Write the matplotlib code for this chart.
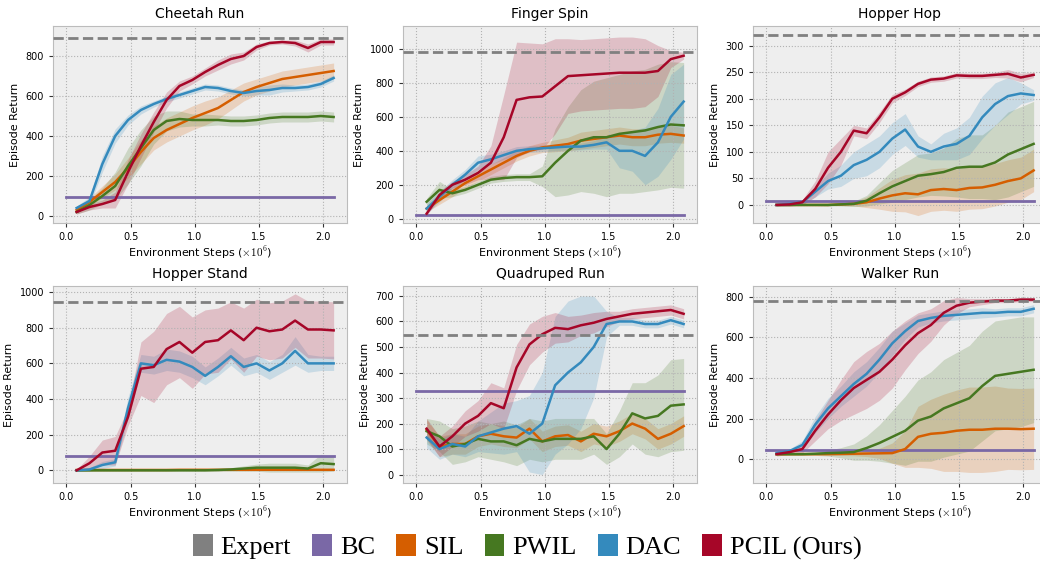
import matplotlib
matplotlib.use("Agg")
import matplotlib.pyplot as plt
from matplotlib.patches import Patch
import numpy as np

steps = [0.08, 0.18, 0.28, 0.38, 0.48, 0.58, 0.68, 0.78, 0.88, 0.98, 1.08,
         1.18, 1.28, 1.38, 1.48, 1.58, 1.68, 1.78, 1.88, 1.98, 2.08]

tasks = ["Cheetah Run", "Finger Spin", "Hopper Hop",
         "Hopper Stand", "Quadruped Run", "Walker Run"]
expert_ret = [890, 980, 320, 942, 547, 780]
bc_ret = [95, 22, 7.5, 80, 329, 46]
y_limits = [(-35, 950), (-25, 1135), (-34, 337), (-71, 1034), (-33, 739), (-117, 852)]

# mean curves and +/- spread, one list per task
sil_mean = [
    [30, 70, 120, 170, 240, 320, 390, 430, 460, 490, 515, 540, 580, 620, 645, 665, 685, 695, 705, 715, 725],
    [60, 110, 160, 210, 250, 290, 330, 370, 400, 420, 430, 440, 460, 470, 480, 490, 480, 480, 495, 500, 490],
    [0, 0, 0, 0, 0, 1, 2, 5, 12, 18, 22, 20, 28, 30, 28, 32, 33, 38, 45, 50, 65],
    [2, 2, 2, 2, 2, 2, 2, 2, 3, 3, 3, 3, 3, 3, 3, 3, 3, 3, 3, 3, 3],
    [175, 110, 120, 120, 150, 160, 150, 145, 180, 130, 150, 155, 130, 160, 150, 170, 200, 180, 140, 160, 190],
    [25, 25, 25, 25, 25, 26, 27, 28, 29, 30, 50, 110, 125, 130, 140, 145, 145, 150, 150, 148, 150],
]
sil_std = [
    [10, 20, 30, 40, 50, 60, 60, 60, 60, 60, 60, 55, 50, 45, 40, 40, 40, 40, 40, 40, 40],
    [20, 25, 30, 30, 30, 30, 30, 30, 30, 30, 35, 40, 50, 50, 50, 50, 50, 50, 50, 50, 45],
    [1, 1, 1, 1, 1, 2, 4, 10, 20, 30, 35, 40, 40, 40, 40, 40, 40, 40, 40, 40, 40],
    [3, 3, 3, 3, 3, 3, 3, 3, 3, 3, 3, 3, 3, 3, 3, 3, 3, 3, 3, 3, 3],
    [40, 40, 40, 40, 40, 40, 40, 40, 40, 40, 40, 40, 40, 40, 40, 40, 40, 40, 40, 40, 40],
    [5, 5, 5, 5, 5, 8, 10, 15, 25, 50, 90, 150, 170, 190, 200, 210, 210, 210, 200, 200, 200],
]
pwil_mean = [
    [20, 55, 100, 150, 250, 340, 430, 475, 485, 480, 480, 480, 475, 475, 480, 490, 495, 495, 495, 500, 495],
    [100, 170, 150, 170, 200, 230, 240, 245, 245, 250, 330, 400, 460, 480, 480, 500, 510, 520, 540, 555, 550],
    [0, 0, 0, 0, 0, 1, 2, 8, 22, 35, 45, 55, 58, 62, 70, 72, 72, 80, 95, 105, 115],
    [0, 0, 0, 0, 0, 0, 0, 0, 0, 0, 0, 2, 5, 10, 15, 15, 15, 15, 10, 40, 35],
    [170, 150, 110, 120, 140, 130, 130, 115, 140, 130, 140, 140, 140, 150, 100, 160, 240, 220, 230, 270, 275],
    [25, 25, 25, 27, 30, 32, 35, 55, 80, 110, 140, 190, 210, 250, 275, 300, 360, 410, 420, 430, 440],
]
pwil_std = [
    [10, 25, 40, 70, 90, 90, 70, 50, 40, 30, 30, 25, 25, 25, 25, 25, 25, 25, 25, 25, 25],
    [20, 50, 20, 20, 20, 20, 20, 20, 20, 60, 200, 260, 300, 330, 350, 350, 360, 360, 370, 370, 370],
    [1, 1, 1, 1, 2, 3, 5, 10, 20, 30, 35, 40, 40, 45, 55, 60, 60, 70, 80, 80, 80],
    [2, 2, 2, 2, 2, 2, 2, 2, 2, 2, 3, 8, 10, 15, 20, 25, 25, 25, 20, 50, 40],
    [50, 60, 70, 70, 70, 70, 80, 80, 80, 80, 80, 80, 80, 70, 60, 90, 120, 140, 160, 180, 180],
    [5, 5, 5, 8, 15, 25, 40, 60, 90, 130, 170, 200, 220, 240, 250, 260, 270, 270, 270, 270, 260],
]
dac_mean = [
    [40, 75, 260, 400, 480, 530, 560, 585, 605, 625, 645, 640, 625, 615, 625, 630, 640, 640, 645, 660, 690],
    [60, 130, 200, 260, 330, 350, 375, 400, 410, 415, 420, 425, 425, 435, 450, 400, 400, 370, 450, 600, 690],
    [0, 2, 5, 25, 45, 55, 75, 85, 100, 125, 142, 110, 100, 110, 115, 130, 165, 190, 205, 210, 207],
    [0, 5, 30, 45, 350, 600, 590, 620, 610, 580, 530, 580, 640, 580, 600, 560, 600, 670, 600, 600, 600],
    [145, 100, 120, 110, 150, 165, 180, 190, 160, 200, 350, 400, 440, 500, 590, 600, 600, 590, 590, 605, 590],
    [30, 40, 70, 170, 250, 310, 370, 420, 490, 570, 630, 680, 695, 705, 710, 715, 720, 720, 725, 725, 740],
]
dac_std = [
    [10, 20, 40, 35, 25, 20, 15, 15, 15, 15, 15, 15, 15, 15, 20, 25, 20, 15, 15, 15, 15],
    [30, 30, 30, 30, 40, 30, 25, 25, 20, 20, 20, 20, 20, 25, 40, 100, 120, 170, 200, 250, 220],
    [3, 4, 5, 10, 15, 20, 25, 30, 30, 30, 30, 20, 15, 25, 30, 35, 40, 40, 35, 20, 10],
    [5, 10, 20, 20, 60, 50, 50, 60, 60, 60, 50, 50, 50, 50, 50, 50, 50, 80, 50, 40, 40],
    [40, 40, 40, 40, 60, 80, 100, 100, 150, 200, 270, 280, 260, 200, 50, 15, 15, 15, 15, 15, 15],
    [10, 10, 20, 40, 50, 50, 60, 60, 60, 60, 40, 30, 25, 25, 25, 25, 25, 20, 20, 20, 20],
]
pcil_mean = [
    [20, 45, 60, 80, 220, 350, 470, 580, 650, 680, 720, 755, 785, 800, 845, 865, 870, 865, 840, 870, 870],
    [30, 140, 200, 230, 270, 330, 480, 700, 715, 720, 780, 840, 845, 850, 855, 860, 860, 860, 870, 940, 960],
    [0, 1, 5, 30, 70, 100, 140, 135, 165, 200, 212, 228, 236, 238, 244, 243, 243, 245, 247, 240, 245],
    [0, 40, 100, 110, 300, 570, 580, 680, 720, 660, 720, 730, 785, 730, 800, 780, 790, 840, 790, 790, 785],
    [180, 110, 150, 200, 230, 280, 260, 420, 510, 550, 575, 570, 585, 595, 610, 620, 630, 635, 640, 645, 630],
    [25, 35, 50, 140, 220, 290, 350, 390, 430, 490, 560, 620, 660, 720, 755, 770, 775, 780, 780, 785, 785],
]
pcil_std = [
    [10, 15, 20, 40, 60, 60, 50, 40, 25, 20, 20, 25, 25, 20, 15, 10, 10, 15, 20, 15, 15],
    [10, 20, 20, 30, 40, 100, 250, 340, 320, 310, 280, 220, 210, 210, 210, 210, 210, 200, 150, 50, 20],
    [2, 3, 5, 15, 30, 25, 10, 10, 10, 8, 6, 5, 5, 5, 5, 5, 5, 5, 8, 8, 5],
    [5, 40, 70, 80, 50, 150, 200, 200, 200, 200, 180, 180, 160, 180, 160, 160, 160, 150, 160, 160, 160],
    [40, 40, 40, 50, 60, 80, 80, 90, 80, 70, 60, 50, 40, 40, 30, 20, 20, 20, 20, 20, 20],
    [10, 10, 20, 50, 70, 100, 130, 140, 140, 140, 120, 100, 80, 60, 40, 20, 15, 10, 10, 10, 10],
]

colors = {
    "Expert": "#808080", "BC": "#7A68A6", "SIL": "#D55E00",
    "PWIL": "#467821", "DAC": "#348ABD", "PCIL (Ours)": "#A60628",
}

plt.style.use("bmh")
plt.rcParams["font.family"] = "DejaVu Sans"
plt.rcParams["xtick.direction"] = "out"
plt.rcParams["ytick.direction"] = "out"

W, H = 1040, 563
fig = plt.figure(figsize=(W / 100, H / 100), dpi=100)

lefts = [53, 403, 753]
tops = [26, 286]
aw, ah = 294, 197

x = np.array(steps)
runs = [
    ("SIL", sil_mean, sil_std),
    ("PWIL", pwil_mean, pwil_std),
    ("DAC", dac_mean, dac_std),
    ("PCIL (Ours)", pcil_mean, pcil_std),
]

for i, task in enumerate(tasks):
    r, c = divmod(i, 3)
    ax = fig.add_axes([lefts[c] / W, (H - tops[r] - ah) / H, aw / W, ah / H])
    ax.axhline(expert_ret[i], color=colors["Expert"], ls="--", lw=2, zorder=5)
    ax.plot([0.0, 2.08], [bc_ret[i]] * 2, color=colors["BC"], lw=2)
    for name, mean, std in runs:
        m = np.array(mean[i], dtype=float)
        s = np.array(std[i], dtype=float)
        ax.fill_between(x, m - s, m + s, color=colors[name], alpha=0.2, lw=0)
        ax.plot(x, m, color=colors[name], lw=1.8)
    ax.set_xlim(-0.104, 2.184)
    ax.set_ylim(*y_limits[i])
    ax.set_xticks([0.0, 0.5, 1.0, 1.5, 2.0])
    ax.set_title(task, fontsize=10, pad=6)
    ax.set_xlabel(r"Environment Steps ($\times10^6$)", fontsize=8, labelpad=2)
    ax.set_ylabel("Episode Return", fontsize=8)
    ax.tick_params(labelsize=7, length=3, colors="#333333", labelcolor="black")
    ax.grid(True, color="#b2b2b2", ls=":", lw=0.8)

handles = [Patch(facecolor=colors[k], edgecolor="none") for k in colors]
fig.legend(handles, list(colors.keys()), loc="center", bbox_to_anchor=(0.507, 1 - 547 / H),
           ncol=6, frameon=False, handlelength=0.75, handleheight=0.9,
           handletextpad=0.3, columnspacing=0.8,
           prop={"family": "Liberation Serif", "size": 19})

fig.savefig("out.png", dpi=100)
